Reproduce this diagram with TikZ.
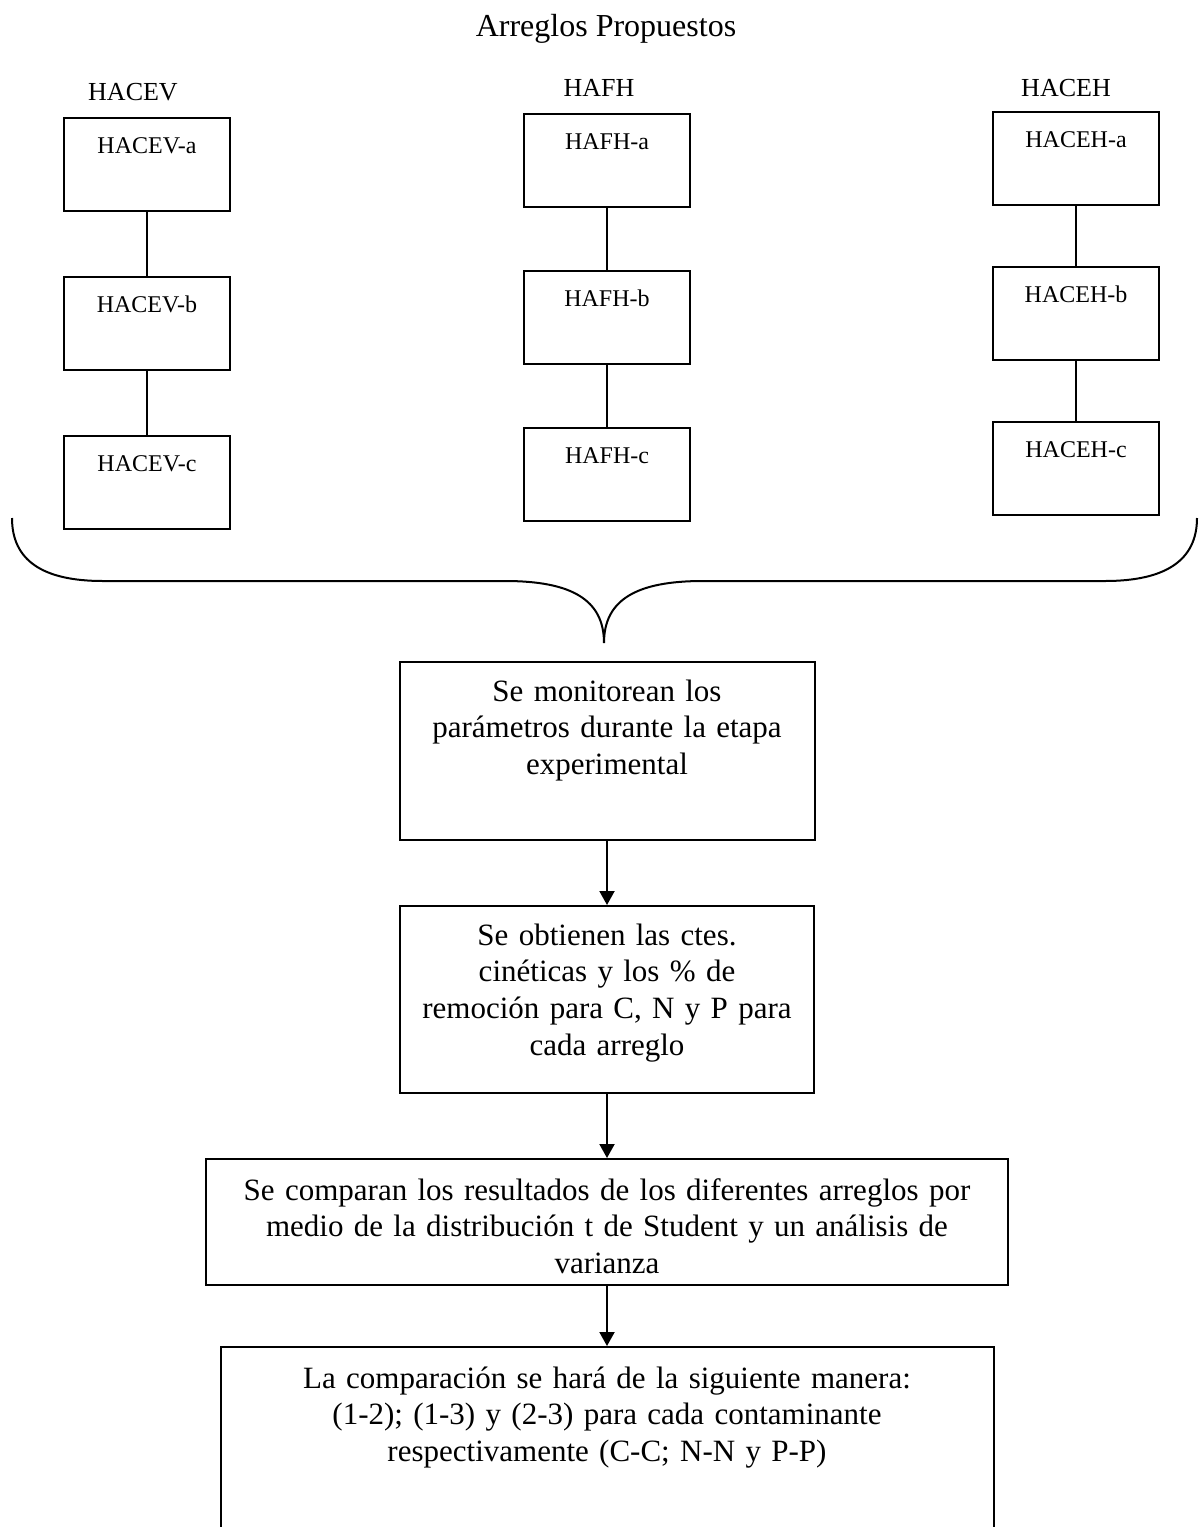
\documentclass[tikz,border=0pt]{standalone}
\usepackage{fontspec}
\setmainfont{Liberation Serif}
\usetikzlibrary{arrows.meta,positioning}
\tikzset{
    arreglo/.style={draw,line width=1pt,inner sep=0pt,text width=83pt,align=center,
        text height=17.5pt,text depth=29pt,font=\fontsize{12pt}{14pt}\selectfont},
    grupo/.style={inner sep=0pt,font=\fontsize{13pt}{15pt}\selectfont},
    paso/.style={draw,line width=1pt,inner sep=0pt,align=center,
        font=\fontsize{15.5pt}{18.4pt}\selectfont},
    une/.style={-,line width=1pt},
    flecha/.style={-{Triangle[length=7pt,width=7.5pt]},line width=1pt}
}
\begin{document}
\begin{tikzpicture}[x=0.5pt,y=-0.5pt]
\useasboundingbox (0,0) rectangle (1200,1527);

\node[inner sep=0pt,font=\fontsize{16pt}{18pt}\selectfont,anchor=base] (titulo) at (606,36) {Arreglos Propuestos};

% columnas de arreglos
\node[arreglo,anchor=north] (hacev a) at (147,117) {HACEV-a};
\node[arreglo] (hacev b) [below=32pt of hacev a] {HACEV-b};
\node[arreglo] (hacev c) [below=32pt of hacev b] {HACEV-c};
\node[grupo] (hacev) [above=8pt of hacev a,xshift=-7pt] {HACEV};

\node[arreglo,anchor=north] (hafh a) at (607,113) {HAFH-a};
\node[arreglo] (hafh b) [below=31pt of hafh a] {HAFH-b};
\node[arreglo] (hafh c) [below=31pt of hafh b] {HAFH-c};
\node[grupo] (hafh) [above=8pt of hafh a,xshift=-4pt] {HAFH};

\node[arreglo,anchor=north] (haceh a) at (1076,111) {HACEH-a};
\node[arreglo] (haceh b) [below=30pt of haceh a] {HACEH-b};
\node[arreglo] (haceh c) [below=30pt of haceh b] {HACEH-c};
\node[grupo] (haceh) [above=7pt of haceh a,xshift=-5pt] {HACEH};

\draw[une] (hacev a) -- (hacev b);
\draw[une] (hacev b) -- (hacev c);
\draw[une] (hafh a) -- (hafh b);
\draw[une] (hafh b) -- (hafh c);
\draw[une] (haceh a) -- (haceh b);
\draw[une] (haceh b) -- (haceh c);

% llave
\draw[une] (12,518) .. controls (12,560) and (42,581) .. (103,581) -- (505,581)
    .. controls (572,581) and (604,600) .. (604,643)
    .. controls (604,600) and (636,581) .. (703,581) -- (1105,581)
    .. controls (1166,581) and (1197,560) .. (1197,518);

% pasos
\node[paso,text width=207.5pt,text height=19.5pt,text depth=69.5pt,anchor=north] (monitoreo) at (607,661)
    {Se monitorean los\\ parámetros durante la etapa\\ experimental};
\node[paso,text width=207pt,text height=19.5pt,text depth=74pt] (constantes) [below=32pt of monitoreo]
    {Se obtienen las ctes.\\ cinéticas y los \% de\\ remoción para C, N y P para\\ cada arreglo};
\node[paso,text width=401pt,text height=20.5pt,text depth=42.5pt] (comparacion) [below=32pt of constantes]
    {Se comparan los resultados de los diferentes arreglos por\\ medio de la distribución t de Student y un análisis de\\ varianza};
\node[paso,text width=386.5pt,text height=20.5pt,text depth=81pt] (manera) [below=30pt of comparacion]
    {La comparación se hará de la siguiente manera:\\ (1-2); (1-3) y (2-3) para cada contaminante\\ respectivamente (C-C; N-N y P-P)};

\draw[flecha] (monitoreo) -- (constantes);
\draw[flecha] (constantes) -- (comparacion);
\draw[flecha] (comparacion) -- (manera);

\end{tikzpicture}
\end{document}
